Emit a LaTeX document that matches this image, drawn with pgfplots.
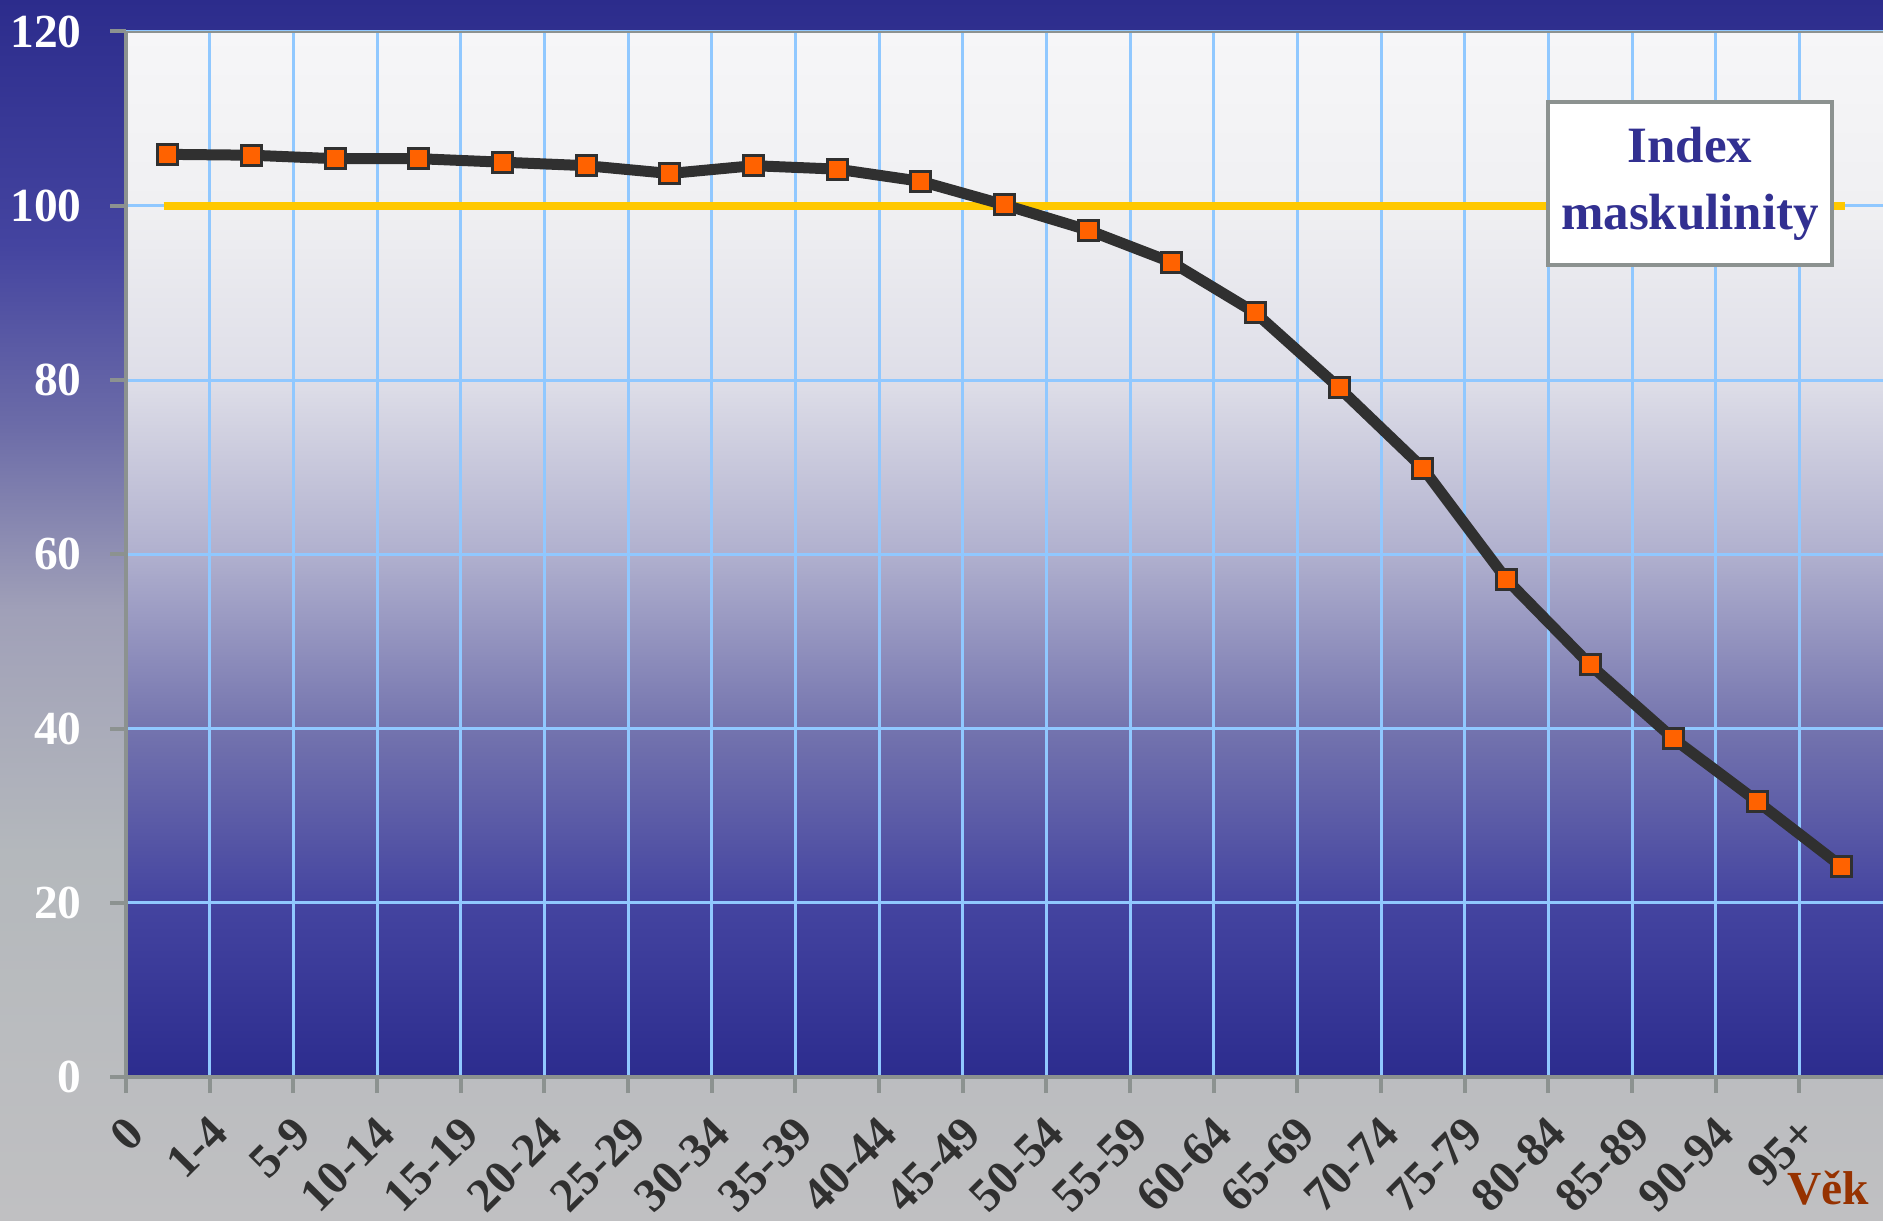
\documentclass[border=0pt]{standalone}
\usepackage{fontspec}
\setmainfont{Liberation Serif}
\usepackage{pgfplots}
\pgfplotsset{compat=1.18}

\definecolor{navy}{RGB}{44,44,140}
\definecolor{gridblue}{RGB}{144,200,255}
\definecolor{axgray}{RGB}{140,146,144}
\definecolor{linedark}{RGB}{48,48,48}
\definecolor{mkorange}{RGB}{255,98,0}
\definecolor{refyellow}{RGB}{255,200,0}
\definecolor{vekbrown}{RGB}{150,50,0}
\definecolor{legnavy}{RGB}{50,48,145}

% outer background: gray at the bottom, navy at the top
\pgfdeclareverticalshading{outerbg}{100bp}{
  color(0bp)=(rgb,255:red,192;green,192;blue,194);
  color(25bp)=(rgb,255:red,192;green,192;blue,194);
  color(40bp)=(rgb,255:red,180;green,184;blue,188);
  color(50bp)=(rgb,255:red,160;green,160;blue,184);
  color(57.5bp)=(rgb,255:red,108;green,108;blue,168);
  color(65bp)=(rgb,255:red,68;green,68;blue,160);
  color(75bp)=(rgb,255:red,44;green,44;blue,140);
  color(100bp)=(rgb,255:red,44;green,44;blue,140)}
% plot area: navy at the bottom, near white at the top
\pgfdeclareverticalshading{plotbg}{100bp}{
  color(0bp)=(rgb,255:red,44;green,44;blue,142);
  color(25bp)=(rgb,255:red,44;green,44;blue,142);
  color(33.3bp)=(rgb,255:red,68;green,68;blue,160);
  color(41.7bp)=(rgb,255:red,116;green,116;blue,174);
  color(50bp)=(rgb,255:red,176;green,176;blue,206);
  color(58.3bp)=(rgb,255:red,222;green,222;blue,232);
  color(66.7bp)=(rgb,255:red,240;green,240;blue,242);
  color(75bp)=(rgb,255:red,246;green,246;blue,248);
  color(100bp)=(rgb,255:red,246;green,246;blue,248)}

\begin{document}
\begin{tikzpicture}
\useasboundingbox (0,0) rectangle (188.3mm,122mm);
\shade[shading=outerbg] (0,0) rectangle (188.3mm,122mm);

\begin{axis}[
    at={(12.6mm,14.3mm)}, anchor=south west,
    scale only axis,
    width=175.7mm, height=104.55mm,
    xmin=0, xmax=21,
    ymin=0, ymax=120,
    axis background/.style={shading=plotbg},
    axis lines*=left,
    axis line style={axgray, line width=0.4mm, -},
    tick style={axgray, line width=0.4mm},
    tick align=outside,
    major tick length=1.6mm,
    xtick={0,...,20},
    xticklabels={0,1-4,5-9,10-14,15-19,20-24,25-29,30-34,35-39,40-44,45-49,
                 50-54,55-59,60-64,65-69,70-74,75-79,80-84,85-89,90-94,95+},
    ytick={0,20,...,120},
    yticklabels={0,20,40,60,80,100,120},
    grid=major,
    major grid style={gridblue, line width=0.3mm},
    yticklabel style={font=\bfseries\fontsize{13.5}{13.5}\selectfont, text=white,
                      anchor=east, xshift=-1.6mm},
    xticklabel style={xshift=-0.2mm, yshift=-2.0mm,
                      font=\bfseries\fontsize{13.5}{13.5}\selectfont, text=linedark,
                      rotate=45, anchor=north east, inner sep=0pt},
]

% reference level 100
\addplot[refyellow, line width=0.8mm] coordinates {(0.45,100) (20.55,100)};

% index of masculinity by age group
\addplot[linedark, line width=1.1mm,
         mark=square*, mark size=1.0mm,
         mark options={fill=mkorange, draw=linedark, line width=0.3mm}]
coordinates {
    (0.5,105.9) (1.5,105.8) (2.5,105.4) (3.5,105.4) (4.5,105.0)
    (5.5,104.6) (6.5,103.7) (7.5,104.6) (8.5,104.2) (9.5,102.8)
    (10.5,100.1) (11.5,97.2) (12.5,93.5) (13.5,87.7) (14.5,79.1)
    (15.5,69.9) (16.5,57.1) (17.5,47.3) (18.5,38.8) (19.5,31.6)
    (20.5,24.2)
};

\draw[axgray, line width=0.4mm] (rel axis cs:0,1) -- (rel axis cs:1,1);
\end{axis}

\node[anchor=base east, inner sep=0pt, text=vekbrown,
      font=\bfseries\fontsize{13.5}{13.5}\selectfont] at (187.0mm,1.6mm) {Věk};

\node[draw=axgray, line width=0.4mm, fill=white, text=legnavy,
      minimum width=28.4mm, minimum height=16.3mm, align=center,
      font=\bfseries\fontsize{14.5}{19}\selectfont] at (169.0mm,103.65mm)
      {Index\\maskulinity};
\end{tikzpicture}
\end{document}
